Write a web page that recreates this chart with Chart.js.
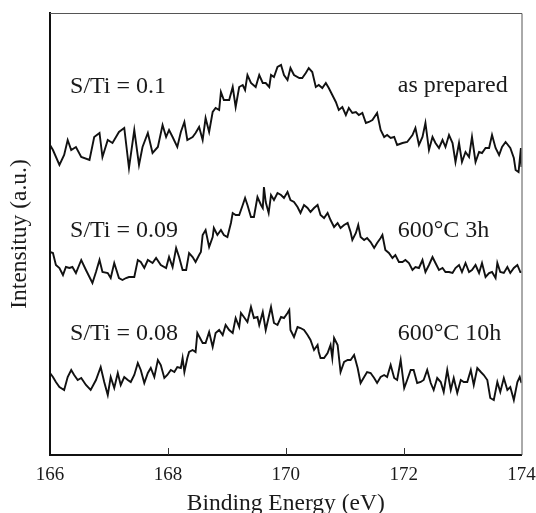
<!DOCTYPE html>
<html><head><meta charset="utf-8">
<script src="https://cdn.jsdelivr.net/npm/chart.js@4/dist/chart.umd.min.js"></script>
<style>html,body{margin:0;padding:0;background:#fff;}#wrap{width:536px;height:513px;}</style>
</head><body><div id="wrap"><canvas id="c" width="536" height="513"></canvas></div>
<script>
const xTicks = [166, 168, 170, 172, 174];
const xTitle = 'Binding Energy (eV)';
const yTitle = 'Intensituy (a.u.)';

// as prepared
const E1 = [166.00,166.05,166.16,166.24,166.30,166.36,166.44,166.53,166.67,166.75,166.84,166.89,166.98,167.06,167.17,167.26,167.34,167.43,167.51,167.57,167.66,167.74,167.83,167.91,167.97,168.02,168.08,168.16,168.22,168.28,168.33,168.42,168.47,168.53,168.59,168.64,168.70,168.76,168.81,168.87,168.90,168.95,169.04,169.10,169.15,169.21,169.27,169.31,169.35,169.41,169.49,169.55,169.61,169.66,169.72,169.75,169.80,169.86,169.92,169.97,170.03,170.08,170.14,170.23,170.28,170.34,170.39,170.45,170.51,170.56,170.62,170.68,170.73,170.79,170.85,170.90,170.96,171.02,171.07,171.13,171.19,171.24,171.30,171.36,171.41,171.47,171.55,171.61,171.67,171.72,171.78,171.84,171.89,171.98,172.06,172.15,172.20,172.26,172.32,172.37,172.43,172.49,172.54,172.60,172.66,172.71,172.77,172.83,172.88,172.94,172.99,173.05,173.11,173.16,173.22,173.28,173.33,173.39,173.45,173.50,173.56,173.62,173.67,173.73,173.81,173.87,173.90,173.95,173.99,174.00];
const I1 = [311,306,291,301,316,306,309,299,296,319,323,299,316,313,324,328,288,326,291,309,323,303,309,331,319,326,319,309,324,334,316,319,323,329,316,338,324,344,348,346,364,356,356,369,349,369,371,366,381,373,369,381,373,373,369,381,379,389,391,381,376,388,381,378,378,383,388,384,369,371,368,373,368,361,354,346,349,341,348,343,344,341,343,333,334,336,343,326,319,321,318,319,311,313,314,321,328,311,319,333,306,319,313,308,316,309,321,313,294,313,294,304,299,319,294,304,303,308,308,321,308,301,309,314,308,298,286,284,308,289];

// 600°C 3h
const E2 = [166.00,166.05,166.10,166.16,166.22,166.27,166.33,166.38,166.44,166.53,166.61,166.72,166.78,166.84,166.89,166.98,167.03,167.09,167.17,167.23,167.29,167.34,167.43,167.49,167.54,167.60,167.66,167.74,167.80,167.88,167.97,168.02,168.08,168.14,168.19,168.25,168.31,168.36,168.42,168.47,168.53,168.56,168.59,168.64,168.70,168.76,168.78,168.84,168.90,168.95,169.01,169.07,169.10,169.15,169.21,169.27,169.31,169.35,169.41,169.46,169.49,169.52,169.58,169.61,169.63,169.66,169.71,169.75,169.80,169.86,169.92,169.97,170.03,170.08,170.14,170.20,170.25,170.31,170.37,170.42,170.48,170.54,170.59,170.65,170.71,170.76,170.82,170.88,170.93,170.99,171.05,171.10,171.13,171.19,171.23,171.27,171.33,171.38,171.44,171.50,171.55,171.61,171.64,171.69,171.75,171.81,171.86,171.92,171.98,172.03,172.09,172.15,172.20,172.26,172.32,172.37,172.43,172.49,172.54,172.60,172.66,172.71,172.77,172.83,172.88,172.94,172.99,173.05,173.11,173.16,173.22,173.28,173.33,173.39,173.45,173.50,173.56,173.59,173.64,173.70,173.76,173.81,173.87,173.93,173.98,174.00];
const I2 = [204,203,191,188,181,189,188,189,183,196,186,173,184,196,184,183,178,193,178,176,178,179,179,196,194,188,196,193,198,191,188,199,189,208,199,186,186,203,199,194,201,204,221,226,209,219,228,221,226,221,219,233,243,241,241,251,258,251,239,239,249,259,251,248,269,254,243,261,256,263,261,258,264,256,254,249,243,251,248,244,248,251,241,238,243,236,229,233,228,231,233,224,216,223,231,219,216,218,214,208,213,218,221,206,203,198,201,194,194,196,193,186,189,188,196,184,191,199,193,186,188,184,184,183,188,191,184,193,184,186,191,183,193,179,183,184,178,193,184,183,189,183,188,191,184,184];

// 600°C 10h
const E3 = [166.00,166.05,166.10,166.16,166.24,166.30,166.36,166.41,166.47,166.53,166.61,166.69,166.78,166.86,166.92,166.98,167.03,167.09,167.15,167.20,167.26,167.32,167.37,167.43,167.49,167.54,167.60,167.66,167.71,167.77,167.83,167.88,167.94,167.99,168.05,168.11,168.16,168.22,168.25,168.28,168.33,168.36,168.42,168.47,168.50,168.59,168.64,168.70,168.76,168.81,168.87,168.93,168.98,169.04,169.10,169.15,169.21,169.24,169.29,169.35,169.41,169.46,169.52,169.55,169.61,169.66,169.75,169.80,169.86,169.92,169.97,170.03,170.06,170.08,170.14,170.20,170.25,170.31,170.37,170.42,170.48,170.54,170.56,170.59,170.65,170.71,170.76,170.79,170.82,170.88,170.93,170.99,171.05,171.10,171.16,171.22,171.27,171.33,171.38,171.44,171.50,171.55,171.61,171.67,171.72,171.78,171.84,171.89,171.95,172.01,172.06,172.12,172.17,172.23,172.29,172.34,172.40,172.46,172.51,172.57,172.63,172.68,172.74,172.80,172.85,172.91,172.97,173.02,173.08,173.14,173.19,173.25,173.31,173.36,173.42,173.47,173.53,173.59,173.64,173.70,173.76,173.81,173.87,173.93,173.97,174.00];
const I3 = [83,79,74,69,66,79,86,81,76,78,71,66,76,89,74,61,79,68,83,71,79,76,74,81,93,86,73,83,88,79,96,91,78,81,86,84,89,88,98,84,98,104,106,104,123,113,113,124,109,123,126,121,131,126,123,138,129,143,139,134,149,138,139,131,144,126,149,133,131,139,138,143,146,126,119,129,128,126,121,116,106,111,104,98,98,103,111,98,118,111,84,94,96,96,101,88,73,79,84,83,78,73,79,81,79,91,78,76,96,68,76,86,86,73,74,76,86,73,66,78,74,64,86,66,78,63,76,74,74,86,71,88,84,81,76,58,56,74,64,78,66,69,56,74,79,73];

const annotations = [
  {text: 'S/Ti = 0.1',  x: 166.34, y: 363, align: 'left'},
  {text: 'as prepared', x: 171.90, y: 364, align: 'left'},
  {text: 'S/Ti = 0.09', x: 166.34, y: 219, align: 'left'},
  {text: '600°C 3h',    x: 171.90, y: 219, align: 'left'},
  {text: 'S/Ti = 0.08', x: 166.34, y: 116, align: 'left'},
  {text: '600°C 10h',   x: 171.90, y: 116, align: 'left'}
];

const SERIF = "'Liberation Serif', 'Times New Roman', serif";
const TXT = '#1a1a1a';

function pts(E, I) { return E.map((e, i) => ({x: e, y: I[i]})); }

const framePlugin = {
  id: 'frame',
  afterDatasetsDraw(chart) {
    const {ctx, chartArea: a, scales} = chart;
    ctx.save();
    ctx.strokeStyle = '#555';
    ctx.lineWidth = 1;
    ctx.beginPath();
    ctx.moveTo(a.left, a.top + 0.5); ctx.lineTo(a.right + 0.5, a.top + 0.5);
    ctx.lineTo(a.right + 0.5, a.bottom);
    ctx.stroke();
    ctx.strokeStyle = '#333';
    ctx.beginPath();
    xTicks.slice(1, -1).forEach(v => {
      const px = Math.round(scales.x.getPixelForValue(v)) + 0.5;
      ctx.moveTo(px, a.bottom); ctx.lineTo(px, a.bottom - 7);
    });
    ctx.stroke();
    ctx.fillStyle = TXT;
    ctx.font = '24px ' + SERIF;
    ctx.textBaseline = 'alphabetic';
    annotations.forEach(t => {
      ctx.textAlign = t.align;
      ctx.fillText(t.text, scales.x.getPixelForValue(t.x), scales.y.getPixelForValue(t.y));
    });
    ctx.restore();
  }
};

const mk = (E, I) => ({data: pts(E, I), borderColor: '#111', borderWidth: 1.9, pointRadius: 0, tension: 0, fill: false});

new Chart(document.getElementById('c'), {
  type: 'line',
  data: {datasets: [mk(E1, I1), mk(E2, I2), mk(E3, I3)]},
  options: {
    responsive: false, devicePixelRatio: 1, animation: false,
    layout: {padding: {top: 13, right: 14.5, left: 0, bottom: 0}},
    plugins: {legend: {display: false}, tooltip: {enabled: false}},
    scales: {
      x: {
        type: 'linear', min: 166, max: 174, position: 'bottom',
        afterBuildTicks: s => { s.ticks = xTicks.map(v => ({value: v})); },
        ticks: {font: {family: SERIF, size: 19}, color: TXT, maxRotation: 0, padding: 9, autoSkip: false},
        grid: {display: false, drawTicks: false},
        border: {display: true, color: '#111', width: 2},
        title: {display: true, text: xTitle, font: {family: SERIF, size: 23.5}, color: TXT, padding: {top: 0, bottom: -5}},
        afterFit: s => { s.height = 58; s.paddingLeft = 0; s.paddingRight = 0; }
      },
      y: {
        min: 1, max: 443,
        ticks: {display: false},
        grid: {display: false, drawTicks: false},
        border: {display: true, color: '#111', width: 2},
        title: {display: true, text: yTitle, font: {family: SERIF, size: 23.5}, color: TXT, padding: {top: 6, bottom: 0}},
        afterFit: s => { s.width = 50; s.paddingTop = 0; s.paddingBottom = 0; }
      }
    }
  },
  plugins: [framePlugin]
});
</script></body></html>
